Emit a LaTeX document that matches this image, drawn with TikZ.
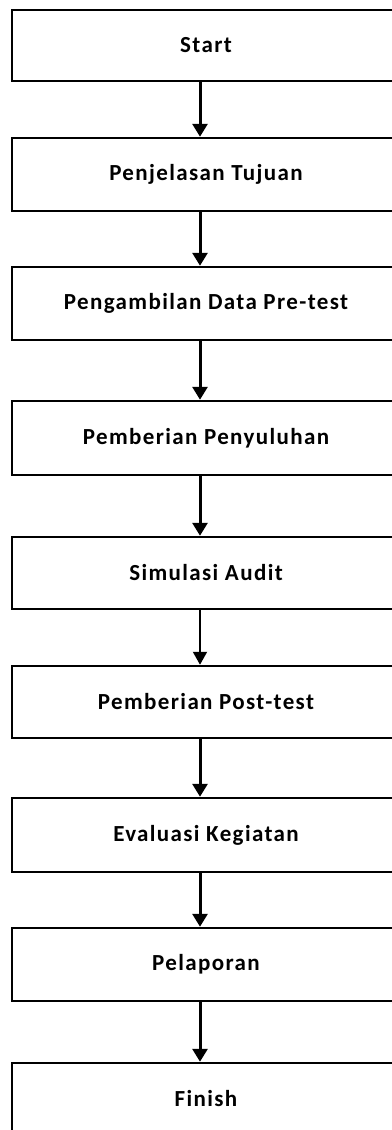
\documentclass[tikz,border=0pt]{standalone}
\usepackage{fontspec}
\setmainfont[LetterSpace=6]{Carlito}
\usetikzlibrary{arrows.meta}
\begin{document}
\begin{tikzpicture}[x=1pt,y=1pt,
  stepbox/.style={draw, line width=2.5pt, minimum width=388pt, inner sep=0pt,
    font=\bfseries\fontsize{23}{26}\selectfont},
  flow/.style={line width=3pt, -{Triangle[width=15pt,length=13pt]}},
  thinflow/.style={line width=2pt, -{Triangle[width=14pt,length=13pt]}}]
\useasboundingbox (0,0) rectangle (391,-1130);
\fill[white] (0,0) rectangle (391,-1130);
\node[stepbox, minimum height=71pt] (s1) at (206,-45.5) {Start};
\node[stepbox, minimum height=73pt] (s2) at (206,-174.5) {Penjelasan Tujuan};
\node[stepbox, minimum height=73pt] (s3) at (206,-303.5) {Pengambilan Data Pre-test};
\node[stepbox, minimum height=74pt] (s4) at (206,-438) {Pemberian Penyuluhan};
\node[stepbox, minimum height=72pt] (s5) at (206,-573) {Simulasi Audit};
\node[stepbox, minimum height=72pt] (s6) at (206,-702) {Pemberian Post-test};
\node[stepbox, minimum height=74pt] (s7) at (206,-835) {Evaluasi Kegiatan};
\node[stepbox, minimum height=73pt] (s8) at (206,-964.5) {Pelaporan};
\node[stepbox, minimum height=72pt] (s9) at (206,-1099) {Finish};
\draw[flow] (s1.south -| 200,0) -- (s2.north -| 200,0);
\draw[flow] (s2.south -| 200,0) -- (s3.north -| 200,0);
\draw[flow] (s3.south -| 200,0) -- (s4.north -| 200,0);
\draw[flow] (s4.south -| 200,0) -- (s5.north -| 200,0);
\draw[thinflow] (s5.south -| 200,0) -- (s6.north -| 200,0);
\draw[flow] (s6.south -| 200,0) -- (s7.north -| 200,0);
\draw[flow] (s7.south -| 200,0) -- (s8.north -| 200,0);
\draw[flow] (s8.south -| 200,0) -- (s9.north -| 200,0);
\end{tikzpicture}
\end{document}
